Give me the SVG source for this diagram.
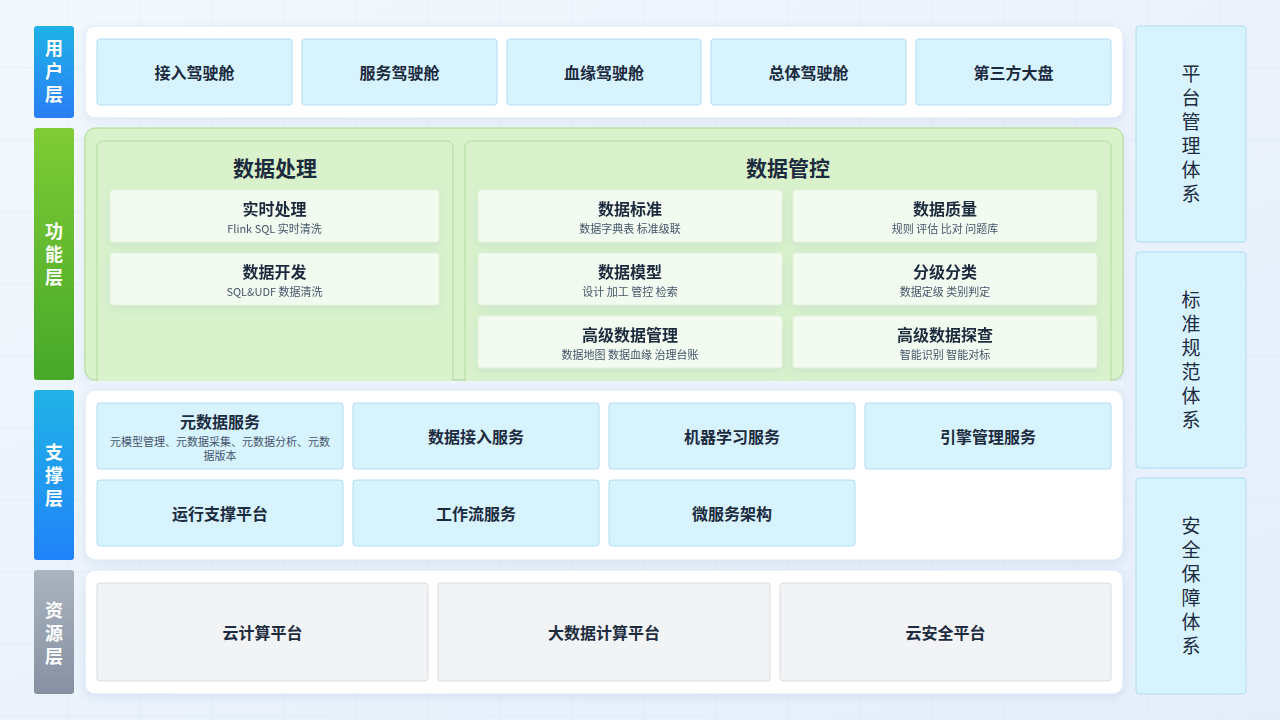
<svg xmlns="http://www.w3.org/2000/svg" width="1280" height="720" viewBox="0 0 1280 720">
<defs>
<linearGradient id="bg" x1="0" y1="0" x2="1" y2="1"><stop offset="0" stop-color="#f3f8fd"/><stop offset="0.6" stop-color="#e9f1fb"/><stop offset="1" stop-color="#e4eefb"/></linearGradient>
<pattern id="grid" width="72" height="72" patternUnits="userSpaceOnUse" x="-4" y="-4"><path d="M72 0V72H0" fill="none" stroke="#dde8f5" stroke-width="1"/></pattern>
<linearGradient id="gU" x1="0" y1="0" x2="0" y2="1"><stop offset="0" stop-color="#1eb2e6"/><stop offset="1" stop-color="#2a7ef6"/></linearGradient>
<linearGradient id="gF" x1="0" y1="0" x2="0" y2="1"><stop offset="0" stop-color="#7fcc35"/><stop offset="1" stop-color="#46a829"/></linearGradient>
<linearGradient id="gS" x1="0" y1="0" x2="0" y2="1"><stop offset="0" stop-color="#21b3e6"/><stop offset="1" stop-color="#2083f9"/></linearGradient>
<linearGradient id="gR" x1="0" y1="0" x2="0" y2="1"><stop offset="0" stop-color="#aab4c0"/><stop offset="1" stop-color="#8590a1"/></linearGradient>
<filter id="sh" x="-10%" y="-10%" width="120%" height="130%"><feDropShadow dx="0" dy="3" stdDeviation="4" flood-color="#6a8bb5" flood-opacity="0.15"/></filter>
</defs>
<style>
text{font-family:"Noto Sans CJK SC","Noto Sans",sans-serif;text-anchor:middle;dominant-baseline:central}
.lab{fill:#fff;font-size:18px;font-weight:700}
.panel{fill:#fff;stroke:#dbe8f7;stroke-width:1}
.blue{fill:#d7f3fe;stroke:#b0dcf5;stroke-width:1}
.gray{fill:#f1f3f5;stroke:#d6dbe1;stroke-width:1}
.t{fill:#1d2b3e;font-size:16px;font-weight:700}
.card{fill:#f3faef;stroke:#e4f1dc;stroke-width:1}
.ct{fill:#1d2b3e;font-size:16px;font-weight:700}
.cs{fill:#44546a;font-size:11px}
.h{fill:#1d2b3e;font-size:21px;font-weight:700}
.side{fill:#d7f3fe;stroke:#b3ddf3;stroke-width:1}
.st{fill:#1d2b3e;font-size:19px}
</style>
<rect width="1280" height="720" fill="url(#bg)"/>
<rect width="1280" height="720" fill="url(#grid)"/>
<g id="labels">
<rect x="34" y="26" width="40" height="92" rx="3" fill="url(#gU)"/>
<text class="lab" x="54" y="47">用</text><text class="lab" x="54" y="70">户</text><text class="lab" x="54" y="93">层</text>
<rect x="34" y="128" width="40" height="252" rx="3" fill="url(#gF)"/>
<text class="lab" x="54" y="230">功</text><text class="lab" x="54" y="253">能</text><text class="lab" x="54" y="276">层</text>
<rect x="34" y="390" width="40" height="170" rx="3" fill="url(#gS)"/>
<text class="lab" x="54" y="451">支</text><text class="lab" x="54" y="474">撑</text><text class="lab" x="54" y="497">层</text>
<rect x="34" y="570" width="40" height="124" rx="3" fill="url(#gR)"/>
<text class="lab" x="54" y="609">资</text><text class="lab" x="54" y="632">源</text><text class="lab" x="54" y="655">层</text>
</g>
<g id="user-layer">
<rect class="panel" x="85" y="26" width="1038" height="92" rx="10" filter="url(#sh)"/>
<g id="u1"><rect class="blue" x="97" y="39" width="195" height="66" rx="3"/><text class="t" x="194.5" y="72">接入驾驶舱</text></g>
<g id="u2"><rect class="blue" x="302" y="39" width="195" height="66" rx="3"/><text class="t" x="399.5" y="72">服务驾驶舱</text></g>
<g id="u3"><rect class="blue" x="507" y="39" width="194" height="66" rx="3"/><text class="t" x="604" y="72">血缘驾驶舱</text></g>
<g id="u4"><rect class="blue" x="711" y="39" width="195" height="66" rx="3"/><text class="t" x="808.5" y="72">总体驾驶舱</text></g>
<g id="u5"><rect class="blue" x="916" y="39" width="195" height="66" rx="3"/><text class="t" x="1013.5" y="72">第三方大盘</text></g>
</g>
<g id="function-layer">
<rect x="85" y="128" width="1038" height="252" rx="10" fill="#d9f2cc" stroke="#a9db8f" filter="url(#sh)"/>
<g id="proc">
<rect x="97" y="141" width="356" height="245" rx="6" fill="#d9f2cc" stroke="#b0dd98"/>
<text class="h" x="275" y="167">数据处理</text>
<g id="p1" filter="url(#sh)"><rect class="card" x="110" y="190" width="329" height="52" rx="3"/><text class="ct" x="274.5" y="208">实时处理</text><text class="cs" x="274.5" y="228">Flink SQL 实时清洗</text></g>
<g id="p2" filter="url(#sh)"><rect class="card" x="110" y="253" width="329" height="52" rx="3"/><text class="ct" x="274.5" y="271">数据开发</text><text class="cs" x="274.5" y="291">SQL&amp;UDF 数据清洗</text></g>
</g>
<g id="gov">
<rect x="465" y="141" width="646" height="245" rx="6" fill="#d9f2cc" stroke="#b0dd98"/>
<text class="h" x="788" y="167">数据管控</text>
<g id="g1" filter="url(#sh)"><rect class="card" x="478" y="190" width="304" height="52" rx="3"/><text class="ct" x="630" y="208">数据标准</text><text class="cs" x="630" y="228">数据字典表 标准级联</text></g>
<g id="g2" filter="url(#sh)"><rect class="card" x="793" y="190" width="304" height="52" rx="3"/><text class="ct" x="945" y="208">数据质量</text><text class="cs" x="945" y="228">规则 评估 比对 问题库</text></g>
<g id="g3" filter="url(#sh)"><rect class="card" x="478" y="253" width="304" height="52" rx="3"/><text class="ct" x="630" y="271">数据模型</text><text class="cs" x="630" y="291">设计 加工 管控 检索</text></g>
<g id="g4" filter="url(#sh)"><rect class="card" x="793" y="253" width="304" height="52" rx="3"/><text class="ct" x="945" y="271">分级分类</text><text class="cs" x="945" y="291">数据定级 类别判定</text></g>
<g id="g5" filter="url(#sh)"><rect class="card" x="478" y="316" width="304" height="52" rx="3"/><text class="ct" x="630" y="334">高级数据管理</text><text class="cs" x="630" y="354">数据地图 数据血缘 治理台账</text></g>
<g id="g6" filter="url(#sh)"><rect class="card" x="793" y="316" width="304" height="52" rx="3"/><text class="ct" x="945" y="334">高级数据探查</text><text class="cs" x="945" y="354">智能识别 智能对标</text></g>
</g>
</g>
<rect x="84" y="381" width="1040" height="8" fill="#eaf2fb"/>
<g id="support-layer">
<rect class="panel" x="85" y="390" width="1038" height="170" rx="10" filter="url(#sh)"/>
<g id="s1"><rect class="blue" x="97" y="403" width="246" height="66" rx="3"/><text class="t" x="220" y="421">元数据服务</text><text class="cs" x="220" y="441">元模型管理、元数据采集、元数据分析、元数</text><text class="cs" x="220" y="455">据版本</text></g>
<g id="s2"><rect class="blue" x="353" y="403" width="246" height="66" rx="3"/><text class="t" x="476" y="436">数据接入服务</text></g>
<g id="s3"><rect class="blue" x="609" y="403" width="246" height="66" rx="3"/><text class="t" x="732" y="436">机器学习服务</text></g>
<g id="s4"><rect class="blue" x="865" y="403" width="246" height="66" rx="3"/><text class="t" x="988" y="436">引擎管理服务</text></g>
<g id="s5"><rect class="blue" x="97" y="480" width="246" height="66" rx="3"/><text class="t" x="220" y="513">运行支撑平台</text></g>
<g id="s6"><rect class="blue" x="353" y="480" width="246" height="66" rx="3"/><text class="t" x="476" y="513">工作流服务</text></g>
<g id="s7"><rect class="blue" x="609" y="480" width="246" height="66" rx="3"/><text class="t" x="732" y="513">微服务架构</text></g>
</g>
<g id="resource-layer">
<rect class="panel" x="85" y="570" width="1038" height="124" rx="10" filter="url(#sh)"/>
<g id="r1"><rect class="gray" x="97" y="583" width="331" height="98" rx="3"/><text class="t" x="262.5" y="632">云计算平台</text></g>
<g id="r2"><rect class="gray" x="438" y="583" width="332" height="98" rx="3"/><text class="t" x="604" y="632">大数据计算平台</text></g>
<g id="r3"><rect class="gray" x="780" y="583" width="331" height="98" rx="3"/><text class="t" x="945.5" y="632">云安全平台</text></g>
</g>
<g id="side">
<g id="side1"><rect class="side" x="1136" y="26" width="110" height="216" rx="3"/>
<text class="st" x="1191" y="72">平</text><text class="st" x="1191" y="96">台</text><text class="st" x="1191" y="120">管</text><text class="st" x="1191" y="144">理</text><text class="st" x="1191" y="168">体</text><text class="st" x="1191" y="192">系</text></g>
<g id="side2"><rect class="side" x="1136" y="252" width="110" height="216" rx="3"/>
<text class="st" x="1191" y="298">标</text><text class="st" x="1191" y="322">准</text><text class="st" x="1191" y="346">规</text><text class="st" x="1191" y="370">范</text><text class="st" x="1191" y="394">体</text><text class="st" x="1191" y="418">系</text></g>
<g id="side3"><rect class="side" x="1136" y="478" width="110" height="216" rx="3"/>
<text class="st" x="1191" y="524">安</text><text class="st" x="1191" y="548">全</text><text class="st" x="1191" y="572">保</text><text class="st" x="1191" y="596">障</text><text class="st" x="1191" y="620">体</text><text class="st" x="1191" y="644">系</text></g>
</g>
<g id="connectors"/>
</svg>
